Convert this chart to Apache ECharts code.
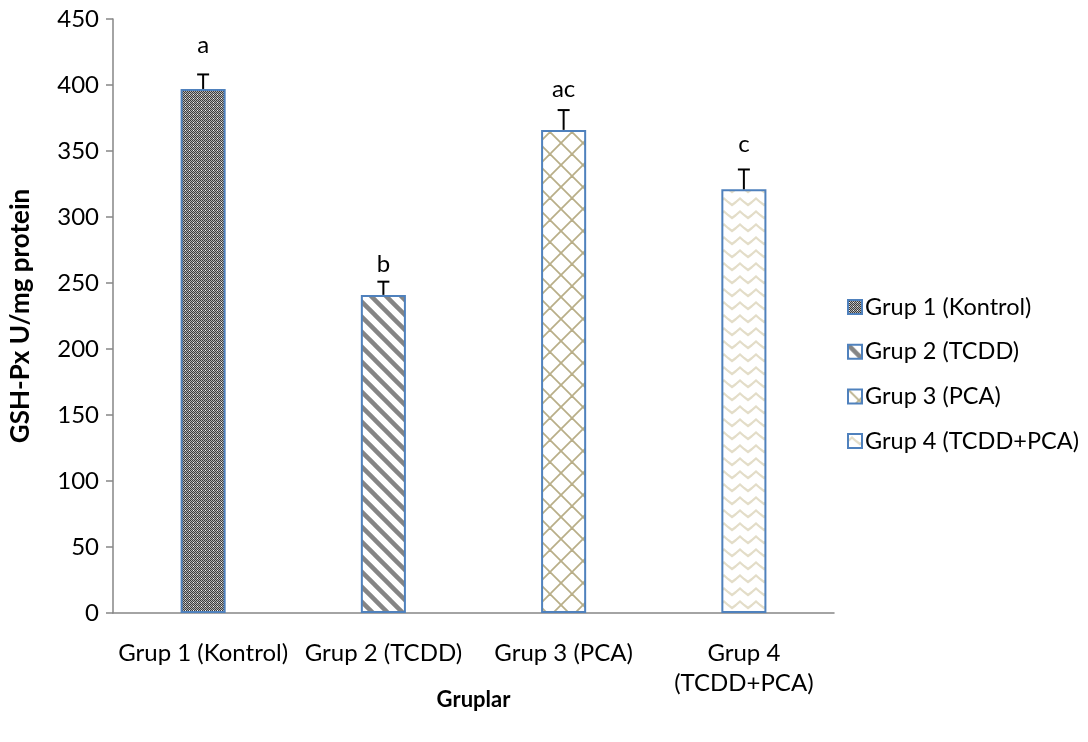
<!DOCTYPE html>
<html><head><meta charset="utf-8">
<script src="https://cdn.jsdelivr.net/npm/echarts@6/dist/echarts.min.js"></script>
<style>html,body{margin:0;padding:0;background:#fff}#c{width:1088px;height:742px}</style>
</head><body><div id="c"></div>
<script>
const categories = ['Grup 1 (Kontrol)', 'Grup 2 (TCDD)', 'Grup 3 (PCA)', 'Grup 4 (TCDD+PCA)'];
const axisLabels = ['Grup 1 (Kontrol)', 'Grup 2 (TCDD)', 'Grup 3 (PCA)', 'Grup 4\n(TCDD+PCA)'];
const values = [397, 241, 366, 321];
const errors = [11, 10, 15, 15];
const letters = ['a', 'b', 'ac', 'c'];
const letterAt = [430, 264, 397, 355];
const yTicks = [0, 50, 100, 150, 200, 250, 300, 350, 400, 450];

const FONT = 'Lato, sans-serif';
const FS = 24;

function tile(w, h, draw) {
  const c = document.createElement('canvas');
  c.width = w; c.height = h;
  const g = c.getContext('2d');
  draw(g, w, h);
  return c;
}
const p1 = tile(4, 4, (g) => {
  g.fillStyle = '#b0b0b0'; g.fillRect(0, 0, 4, 4);
  g.fillStyle = '#3c3c3c';
  for (let y = 0; y < 4; y++) for (let x = 0; x < 4; x++) if ((x + y) % 2 === 0) g.fillRect(x, y, 1, 1);
  g.fillStyle = '#f4f4f4'; g.fillRect(1, 2, 1, 1);
});
const p2 = tile(15, 15, (g, w, h) => {
  g.fillStyle = '#fff'; g.fillRect(0, 0, w, h);
  g.strokeStyle = '#858585'; g.lineWidth = 4.5;
  for (let k = -1; k <= 1; k++) {
    g.beginPath(); g.moveTo(k * w - 2, -2); g.lineTo(k * w + w + 2, h + 2); g.stroke();
  }
});
const p3 = tile(22, 22, (g, w, h) => {
  g.fillStyle = '#fff'; g.fillRect(0, 0, w, h);
  g.strokeStyle = '#b9ae88'; g.lineWidth = 1.8;
  g.beginPath(); g.moveTo(0, 0); g.lineTo(w, h); g.stroke();
  g.beginPath(); g.moveTo(w, 0); g.lineTo(0, h); g.stroke();
});
const p4 = tile(16, 13, (g, w, h) => {
  g.fillStyle = '#fff'; g.fillRect(0, 0, w, h);
  g.strokeStyle = '#e3ddc8'; g.lineWidth = 2.2;
  g.beginPath();
  g.moveTo(-4, 10); g.lineTo(0, 7); g.lineTo(4, 3.5); g.lineTo(8, 7); g.lineTo(12, 10); g.lineTo(16, 7); g.lineTo(20, 3.5);
  g.stroke();
});
const patterns = [p1, p2, p3, p4];

const barSeries = categories.map((name, i) => ({
  name: name,
  type: 'bar',
  stack: 'g',
  barWidth: '25%',
  data: values.map((v, j) => (j === i ? v : null)),
  itemStyle: {
    color: { image: patterns[i], repeat: 'repeat' },
    borderColor: '#4f81bd',
    borderWidth: 2
  },
  emphasis: { disabled: true },
  animation: false
}));

const errSeries = {
  type: 'custom',
  name: 'err',
  data: values.map((v, i) => [i, v, errors[i], letterAt[i]]),
  renderItem: function (params, api) {
    const x = api.value(0);
    const v = api.value(1);
    const e = api.value(2);
    const p0 = api.coord([x, v]);
    const pt = api.coord([x, v + e]);
    const pl = api.coord([x, api.value(3)]);
    return {
      type: 'group',
      children: [
        { type: 'line', shape: { x1: p0[0], y1: p0[1], x2: pt[0], y2: pt[1] }, style: { stroke: '#000', lineWidth: 2 } },
        { type: 'line', shape: { x1: pt[0] - 6, y1: pt[1], x2: pt[0] + 6, y2: pt[1] }, style: { stroke: '#000', lineWidth: 2 } },
        { type: 'text', style: { text: letters[params.dataIndex], x: pl[0], y: pl[1], textAlign: 'center', textVerticalAlign: 'middle', font: FS + 'px ' + FONT, fill: '#000' } }
      ]
    };
  },
  z: 10,
  animation: false,
  silent: true
};

const chart = echarts.init(document.getElementById('c'), null, { renderer: 'canvas' });
chart.setOption({
  animation: false,
  backgroundColor: '#fff',
  grid: { left: 110, right: 254, top: 19, bottom: 129, containLabel: false },
  legend: {
    data: categories,
    orient: 'vertical',
    left: 842,
    top: 290,
    itemWidth: 14,
    itemHeight: 14,
    itemGap: 20.7,
    icon: 'rect',
    textStyle: { fontFamily: FONT, fontSize: 23.5, color: '#000', padding: [0, 0, 0, -2] },
    selectedMode: false
  },
  xAxis: {
    type: 'category',
    data: axisLabels,
    axisLine: { lineStyle: { color: '#868686', width: 1.5 } },
    axisTick: { show: false },
    axisLabel: { interval: 0, fontFamily: FONT, fontSize: FS, color: '#000', margin: 25, lineHeight: 30 },
    name: 'Gruplar',
    nameLocation: 'middle',
    nameGap: 76,
    nameMoveOverlap: false,
    nameTextStyle: { fontFamily: FONT, fontSize: 22, fontWeight: 'bold', color: '#000' }
  },
  yAxis: {
    type: 'value',
    min: yTicks[0],
    max: yTicks[yTicks.length - 1],
    interval: 50,
    axisLine: { show: true, lineStyle: { color: '#868686', width: 1.5 } },
    axisTick: { show: true, length: 7, lineStyle: { color: '#868686', width: 1.5 } },
    splitLine: { show: false },
    axisLabel: { fontFamily: FONT, fontSize: FS, color: '#000', margin: 14 },
    name: 'GSH-Px U/mg protein',
    nameLocation: 'middle',
    nameGap: 79,
    nameMoveOverlap: false,
    nameTextStyle: { fontFamily: FONT, fontSize: 26, fontWeight: 'bold', color: '#000' }
  },
  series: barSeries.concat([errSeries])
});
</script></body></html>
